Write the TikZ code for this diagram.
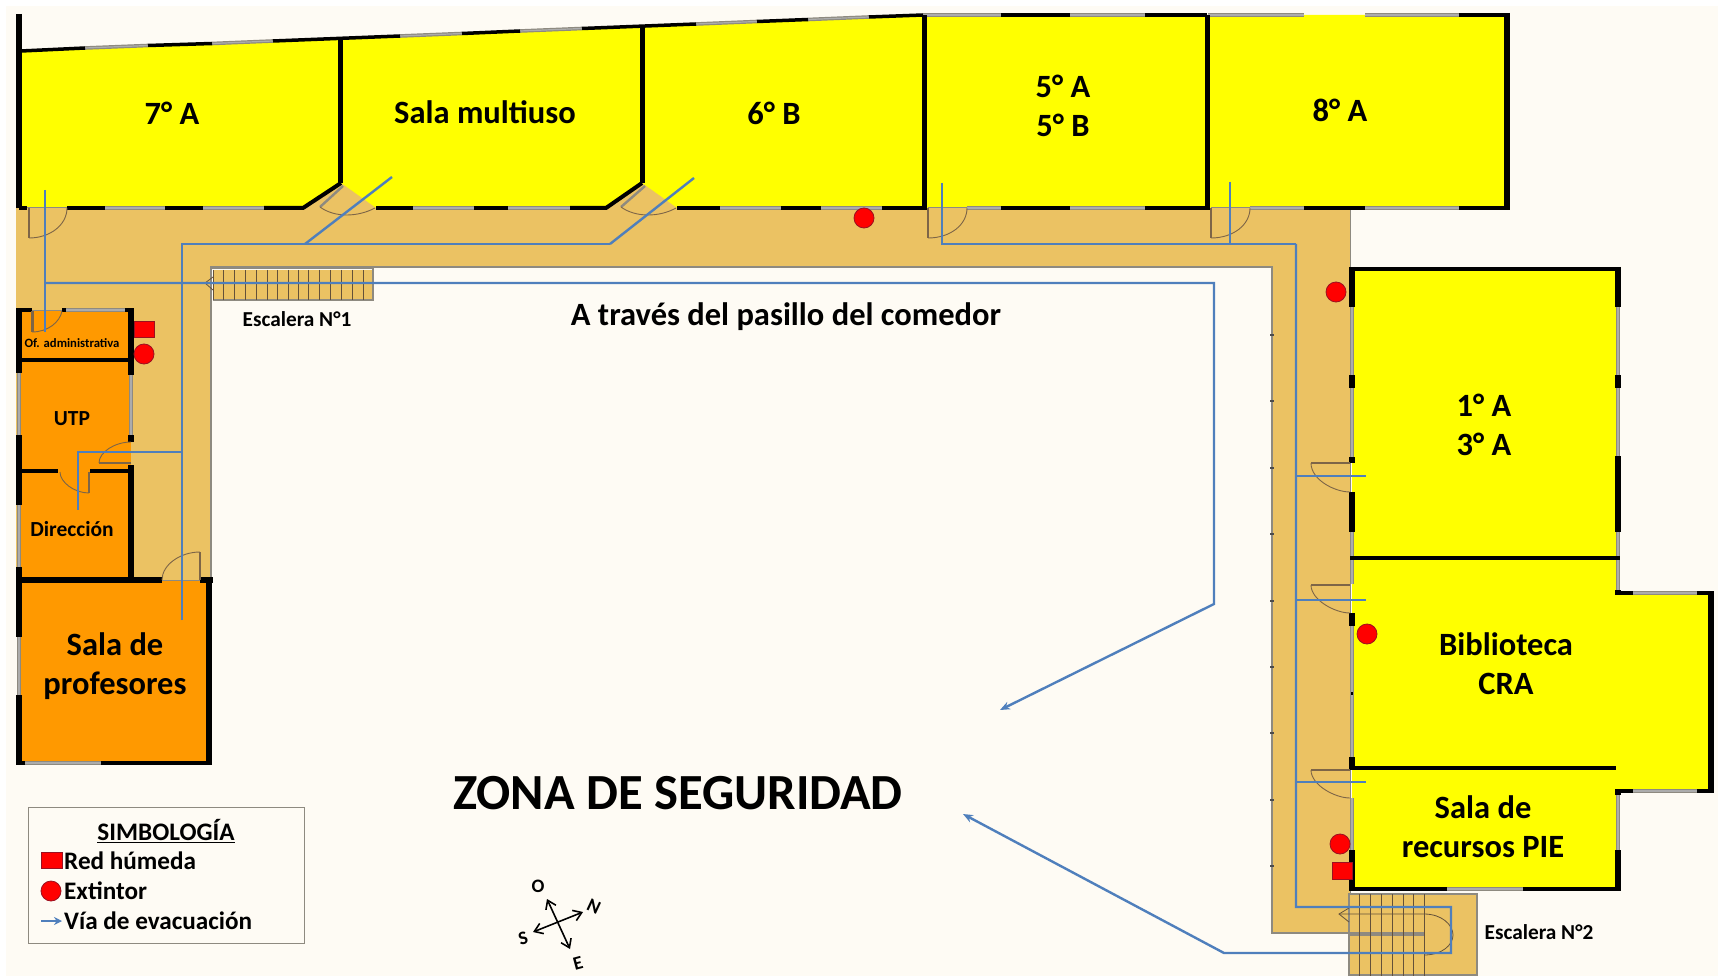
\documentclass[tikz,border=0pt]{standalone}
\usepackage{fontspec}
\setmainfont{Carlito}
\usetikzlibrary{arrows.meta}
\definecolor{creamc}{HTML}{FEFBF4}
\definecolor{corrc}{HTML}{EBC263}
\definecolor{yelc}{HTML}{FFFF00}
\definecolor{orac}{HTML}{FF9900}
\definecolor{bluec}{HTML}{4F7FBC}
\definecolor{grayc}{HTML}{8E8A80}
\definecolor{doorc}{HTML}{7D6547}
\definecolor{redc}{HTML}{FF0000}
\definecolor{redb}{HTML}{9A1020}
\tikzset{
  wallk/.style={black,line width=5.5pt},
  wallt/.style={black,line width=3.5pt},
  winw/.style={grayc,line width=1.2pt,double=gray!65,double distance=1.2pt},
  edgew/.style={grayc,line width=2.4pt},
  thinedge/.style={grayc,line width=1pt},
  arcd/.style={doorc,line width=.9pt},
  leaf/.style={doorc,line width=2.4pt},
  stepl/.style={doorc!80!black,line width=1pt},
  route/.style={bluec,line width=2.4pt},
  routea/.style={route,-{Stealth[length=10pt,width=8pt]}},
  sq/.style={fill=redc,draw=redb,line width=.8pt},
  ci/.style={fill=redc,draw=redb,line width=.8pt},
  lbl/.style={font=\fontsize{#1}{39}\selectfont\bfseries,inner sep=0pt,align=center,text=black},
}
\begin{document}
\begin{tikzpicture}[x=1pt,y=-1pt]
\useasboundingbox (0,0) rectangle (1718,976);
\fill[white] (0,0) rectangle (1718,976);
\fill[creamc] (6,6) rectangle (1718,976);
% corridor
\fill[corrc] (16,208) -- (1350,208) -- (1350,933) -- (1272,933) -- (1272,267) -- (211,267) -- (211,580) -- (16,580) -- cycle;
% rooms
\fill[yelc] (19,51) -- (923,15) -- (1507,15) -- (1507,208) -- (19,208) -- cycle;
\fill[corrc] (303,208) -- (341,183) -- (376,208) -- cycle;
\fill[corrc] (606,208) -- (642,183) -- (677,208) -- cycle;
\fill[yelc] (1352,269) rectangle (1618,593);
\fill[yelc] (1352,593) rectangle (1711,791);
\fill[yelc] (1352,791) rectangle (1618,889);
\fill[orac] (19,310) rectangle (131,580);
\fill[orac] (19,580) rectangle (208,763);
% stairs 2 base
\fill[corrc] (1349,894) rectangle (1477,976);
% corridor edges
\draw[edgew] (211,580) -- (211,267) -- (1272,267) -- (1272,933) -- (1349,933);
\draw[thinedge] (1350,208) -- (1350,893);
\foreach \ty in {335,401,468,534,601,667,733,800,866}{\draw[black!70,line width=1.6pt] (1270,\ty) -- (1274,\ty);}
\draw[thinedge] (27,208) -- (67,208);
\draw[thinedge] (928,208) -- (967,208);
\draw[thinedge] (1211,208) -- (1250,208);
\draw[thinedge] (32,310) -- (62,310);
\draw[thinedge] (162,580) -- (200,580);
\draw[edgew] (1349,976) -- (1349,894) -- (1477,894) -- (1477,976);
\draw[edgew] (1349,975) -- (1477,975);
\draw[grayc,line width=3.5pt] (1349,934) -- (1424,934);
% stairs 2
\foreach \sx in {1359,1370,1381,1392,1403,1413,1424}{\draw[stepl] (\sx,894) -- (\sx,976);}
\draw[stepl,line width=.8pt] (1349,908) -- (1339,914) -- (1349,922);
\draw[stepl,line width=.8pt] (1339,914) -- (1424,914) .. controls (1442,914) and (1453,925) .. (1453,935) .. controls (1453,945) and (1442,955) .. (1424,955);
% stairs 1
\fill[corrc] (213,270) rectangle (373,300);
\draw[edgew,line width=1.5pt] (211,268) -- (373,268) -- (373,300) -- (213,300);
\foreach \sx in {213,223,234,245,256,267,277,288,298,308,319,330,341,352,363}{\draw[stepl] (\sx,270) -- (\sx,300);}
\draw[stepl,line width=.8pt] (213,277) -- (205,283) -- (213,290);
% windows
\draw[winw] (85,48) -- (148,45.5);
\draw[winw] (212,43.5) -- (273,41);
\draw[winw] (400,36) -- (462,33.5);
\draw[winw] (520,31) -- (582,28.5);
\draw[winw] (696,24) -- (757,21.5);
\draw[winw] (808,19.5) -- (869,17);
\draw[winw] (923,15) -- (1001,15);
\draw[winw] (1070,15) -- (1145,15);
\draw[winw] (1208,15) -- (1304,15);
\draw[winw] (1365,15) -- (1459,15);
\draw[winw] (105,208) -- (165,208);
\draw[winw] (203,208) -- (264,208);
\draw[winw] (413,208) -- (474,208);
\draw[winw] (508,208) -- (570,208);
\draw[winw] (720,208) -- (781,208);
\draw[winw] (821,208) -- (882,208);
\draw[winw] (967,208) -- (1001,208);
\draw[winw] (1070,208) -- (1145,208);
\draw[winw] (1250,208) -- (1304,208);
\draw[winw] (1365,208) -- (1459,208);
\draw[winw] (1352,307) -- (1352,375);
\draw[winw] (1352,388) -- (1352,457);
\draw[winw] (1352,532) -- (1352,584);
\draw[winw] (1352,626) -- (1352,757);
\draw[winw] (1352,798) -- (1352,850);
\draw[winw] (1618,307) -- (1618,375);
\draw[winw] (1618,388) -- (1618,456);
\draw[winw] (1618,532) -- (1618,590);
\draw[winw] (1633,593) -- (1697,593);
\draw[winw] (1633,791) -- (1697,791);
\draw[winw] (1618,795) -- (1618,850);
\draw[winw] (1447,889) -- (1523,889);
\draw[winw] (19,373) -- (19,435);
\draw[winw] (19,505) -- (19,567);
\draw[winw] (19,637) -- (19,695);
\draw[winw] (131,375) -- (131,435);
\draw[winw] (25,763) -- (101,763);
\draw[winw] (66,310) -- (125,310);
% walls
\draw[wallk] (19,14) -- (19,208);
\draw[wallt] (21,51) -- (85,48);
\draw[wallt] (148,45.5) -- (212,43.5);
\draw[wallt] (273,41) -- (400,36);
\draw[wallt] (462,33.5) -- (520,31);
\draw[wallt] (582,28.5) -- (696,24);
\draw[wallt] (757,21.5) -- (808,19.5);
\draw[wallt] (869,17) -- (923,15);
\draw[wallt] (1001,15) -- (1070,15);
\draw[wallt] (1145,15) -- (1207,15);
\draw[wallk,line width=4pt] (1459,15) -- (1509,15);
\draw[wallk,line width=5pt] (340,39) -- (340,183);
\draw[wallk,line width=5pt] (642,27) -- (642,183);
\draw[wallk,line width=5pt] (924,15) -- (924,210);
\draw[wallk,line width=5pt] (1207,15) -- (1207,210);
\draw[wallk] (1507,13) -- (1507,210);
\draw[wallk,line width=4pt] (19,208) -- (27,208);
\draw[wallk,line width=4pt] (67,208) -- (105,208);
\draw[wallk,line width=4pt] (165,208) -- (203,208);
\draw[wallk,line width=4pt] (264,208) -- (303,208) -- (341,183);
\draw[wallk,line width=4pt] (376,208) -- (413,208);
\draw[wallk,line width=4pt] (474,208) -- (508,208);
\draw[wallk,line width=4pt] (570,208) -- (606,208) -- (642,183);
\draw[wallk,line width=4pt] (677,208) -- (720,208);
\draw[wallk,line width=4pt] (781,208) -- (821,208);
\draw[wallk,line width=4pt] (882,208) -- (925,208);
\draw[wallk,line width=4pt] (1001,208) -- (1070,208);
\draw[wallk,line width=4pt] (1145,208) -- (1209,208);
\draw[wallk,line width=4pt] (1304,208) -- (1365,208);
\draw[wallk,line width=4pt] (1459,208) -- (1509,208);
% 1A
\draw[wallk,line width=4pt] (1350,269) -- (1620,269);
\draw[wallk] (1352,267) -- (1352,307);
\draw[wallk] (1352,375) -- (1352,388);
\draw[wallk] (1352,457) -- (1352,463);
\draw[wallk] (1352,492) -- (1352,532);
\draw[wallk] (1618,267) -- (1618,307);
\draw[wallk] (1618,375) -- (1618,388);
\draw[wallk] (1618,456) -- (1618,532);
\draw[wallk,line width=4pt] (1350,558) -- (1620,558);
\draw[wallk] (1352,613) -- (1352,626);
\draw[wallk,line width=2pt] (1352,692) -- (1352,695);
\draw[wallk] (1352,757) -- (1352,770);
\draw[wallt] (1352,768) -- (1616,768);
\draw[wallk] (1618,590) -- (1618,595);
\draw[wallk,line width=4pt] (1616,593) -- (1633,593);
\draw[wallk,line width=4pt] (1697,593) -- (1713,593);
\draw[wallk] (1711,591) -- (1711,793);
\draw[wallk,line width=4pt] (1616,791) -- (1633,791);
\draw[wallk,line width=4pt] (1697,791) -- (1713,791);
\draw[wallk] (1618,789) -- (1618,795);
\draw[wallk] (1618,850) -- (1618,891);
\draw[wallk] (1352,850) -- (1352,891);
\draw[wallk,line width=4pt] (1350,889) -- (1447,889);
\draw[wallk,line width=4pt] (1523,889) -- (1620,889);
% orange rooms
\draw[wallk,line width=4pt] (17,310) -- (32,310);
\draw[wallk,line width=4pt] (62,310) -- (66,310);
\draw[wallk,line width=4pt] (125,310) -- (133,310);
\draw[wallk] (19,308) -- (19,373);
\draw[wallk] (19,435) -- (19,505);
\draw[wallk] (19,567) -- (19,637);
\draw[wallk] (19,695) -- (19,765);
\draw[wallk] (131,308) -- (131,375);
\draw[wallk] (131,435) -- (131,442);
\draw[wallk] (131,465) -- (131,580);
\draw[wallk,line width=4pt] (19,360) -- (131,360);
\draw[wallt] (19,471) -- (58,471);
\draw[wallt] (90,471) -- (131,471);
\draw[wallk] (17,580) -- (162,580);
\draw[wallk] (200,580) -- (213,580);
\draw[wallk] (209,578) -- (209,765);
\draw[wallk,line width=4pt] (17,763) -- (25,763);
\draw[wallk,line width=4pt] (101,763) -- (211,763);
% doors
\draw[leaf] (29,208) -- (29,238);
\draw[arcd] (29,238) .. controls (50,238) and (67,225) .. (67,208);
\draw[leaf,grayc] (343,186) -- (320,207);
\draw[arcd] (320,207) .. controls (335,218) and (358,217) .. (375,208);
\draw[leaf,grayc] (645,186) -- (621,207);
\draw[arcd] (621,207) .. controls (636,218) and (660,217) .. (676,208);
\draw[leaf] (928,208) -- (928,238);
\draw[arcd] (928,238) .. controls (950,238) and (967,225) .. (967,208);
\draw[leaf] (1211,208) -- (1211,238);
\draw[arcd] (1211,238) .. controls (1233,238) and (1250,225) .. (1250,208);
\draw[leaf,line width=3pt] (32,311) -- (32,332);
\draw[arcd] (32,332) .. controls (48,332) and (60,322) .. (62,311);
\draw[leaf] (131,463) -- (99,463);
\draw[arcd] (99,463) .. controls (99,452) and (115,442) .. (131,442);
\draw[leaf] (89,472) -- (89,493);
\draw[arcd] (89,493) .. controls (74,493) and (60,482) .. (60,472);
\draw[leaf] (200,580) -- (200,552);
\draw[arcd] (200,552) .. controls (180,552) and (162,565) .. (162,580);
\draw[leaf,line width=1.4pt] (1350,463) -- (1311,463);
\draw[arcd] (1311,463) .. controls (1311,480) and (1335,492) .. (1350,492);
\draw[leaf,line width=1.4pt] (1350,585) -- (1311,585);
\draw[arcd] (1311,585) .. controls (1311,600) and (1335,613) .. (1350,613);
\draw[leaf,line width=1.4pt] (1350,770) -- (1311,770);
\draw[arcd] (1311,770) .. controls (1311,785) and (1335,798) .. (1350,798);
% routes
\draw[route] (45,190) -- (45,332);
\draw[routea] (45,283) -- (1214,283) -- (1214,604) -- (1000,710);
\draw[route] (392,177) -- (305,244);
\draw[route] (694,178) -- (610,244);
\draw[route] (182,620) -- (182,244) -- (610,244);
\draw[route] (182,452) -- (78,452) -- (78,510);
\draw[route] (942,183) -- (942,244) -- (1296,244);
\draw[route] (1230,182) -- (1230,244);
\draw[route] (1296,476) -- (1366,476);
\draw[route] (1296,600) -- (1366,600);
\draw[route] (1296,782) -- (1366,782);
\draw[routea] (1296,244) -- (1296,907) -- (1451,907) -- (1451,953) -- (1224,953) -- (963,814);
% symbols
\draw[sq] (134,321) rectangle (154,337);
\draw[ci] (144,354) circle[radius=10];
\draw[ci] (864,218) circle[radius=10];
\draw[ci] (1336,292) circle[radius=10];
\draw[ci] (1367,634) circle[radius=10];
\draw[ci] (1340,844) circle[radius=10];
\draw[sq] (1332,862) rectangle (1352,879);
% labels
\node[lbl=32.5] (a7) at (172,113) {7° A};
\node[lbl=32.5] (multi) at (485,112) {Sala multiuso};
\node[lbl=32.5] (b6) at (774,113) {6° B};
\node[lbl=32.5] (a5) at (1063,106) {5° A\\5° B};
\node[lbl=32.5] (a8) at (1340,110) {8° A};
\node[lbl=32.5] (a1) at (1484,425) {1° A\\3° A};
\node[lbl=32.5] (cra) at (1506,664) {Biblioteca\\CRA};
\node[lbl=32.5] (pie) at (1483,827) {Sala de\\recursos PIE};
\node[lbl=32.5] (prof) at (115,666) {Sala de\\profesores};
\node[lbl=21.5] (utp) at (72,419) {UTP};
\node[lbl=21.5] (dir) at (72,529) {Dirección};
\node[lbl=12.7] (adm) at (72,343) {Of. administrativa};
\node[lbl=21.3] (esc1) at (297,319) {Escalera N°1};
\node[lbl=21.3] (esc2) at (1539,932) {Escalera N°2};
\node[lbl=32.5] (pasillo) at (786,317) {A través del pasillo del comedor};
\node[lbl=50.6] (zona) at (678,793) {ZONA DE SEGURIDAD};
% legend
\draw[grayc,line width=1pt,fill=creamc] (28,807) rectangle (304,943);
\node[lbl=25.2] (sim) at (166,831) {\underline{SIMBOLOGÍA}};
\draw[sq] (41,852) rectangle (62,868);
\node[lbl=25.2,anchor=west] (rh) at (64,861) {Red húmeda};
\draw[ci] (51,891) circle[radius=10];
\node[lbl=25.2,anchor=west] (ex) at (64,891) {Extintor};
\draw[bluec,line width=2.4pt,-{Stealth[length=8pt,width=8pt]}] (41,921) -- (62,921);
\node[lbl=25.2,anchor=west] (via) at (64,921) {Vía de evacuación};
% compass
\coordinate (co) at (547,899); \coordinate (ce) at (570,949);
\coordinate (cs) at (533,932); \coordinate (cn) at (583,912);
\draw[black,line width=1.6pt,{Straight Barb[length=8pt,width=11pt]}-{Straight Barb[length=8pt,width=11pt]}] (co) -- (ce);
\draw[black,line width=1.6pt,{Straight Barb[length=8pt,width=11pt]}-{Straight Barb[length=8pt,width=11pt]}] (cs) -- (cn);
\node[lbl=19] (lo) at (538,886) {O};
\node[lbl=19,rotate=-25] (ln) at (594,907) {N};
\node[lbl=19,rotate=15] (ls) at (523,938) {S};
\node[lbl=19,rotate=15] (le) at (578,963) {E};
\end{tikzpicture}
\end{document}
